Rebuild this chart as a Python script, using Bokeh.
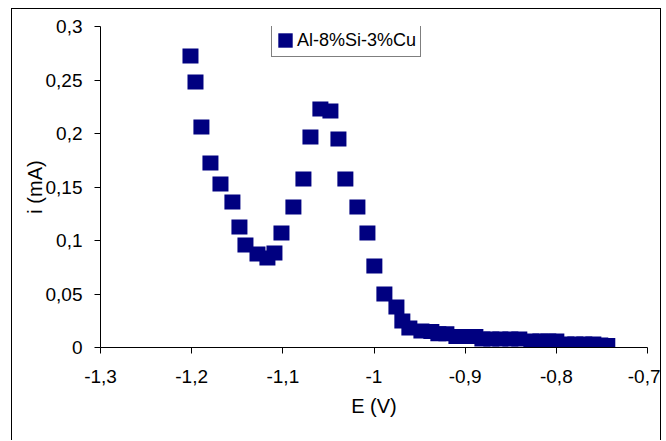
from bokeh.plotting import figure
from bokeh.models import Range1d, FixedTicker, Legend, LegendItem, CustomJSTickFormatter
from bokeh.embed import file_html
from bokeh.resources import INLINE

# ---- data ----
E_V = [-1.2013, -1.1958, -1.1893, -1.1794, -1.1684, -1.1553, -1.1476, -1.1410,
       -1.1278, -1.1169, -1.1092, -1.1015, -1.0884, -1.0774, -1.0697, -1.0588,
       -1.0478, -1.0390, -1.0314, -1.0182, -1.0072, -0.9996, -0.9886, -0.9754,
       -0.9689, -0.9612, -0.9480, -0.9371, -0.9294, -0.9206, -0.9096, -0.8987,
       -0.8888, -0.8811, -0.8713, -0.8614, -0.8504, -0.8406, -0.8274, -0.8175,
       -0.8088, -0.8000, -0.7890, -0.7792, -0.7693, -0.7594, -0.7518, -0.7441]
i_mA = [0.2724, 0.2481, 0.2061, 0.1724, 0.1528, 0.1360, 0.1126, 0.0958,
        0.0874, 0.0836, 0.0883, 0.1070, 0.1313, 0.1575, 0.1967, 0.2229,
        0.2210, 0.1949, 0.1575, 0.1313, 0.1070, 0.0762, 0.0500, 0.0379,
        0.0248, 0.0182, 0.0154, 0.0150, 0.0128, 0.0128, 0.0103, 0.0103,
        0.0103, 0.0079, 0.0079, 0.0079, 0.0079, 0.0079, 0.0061, 0.0061,
        0.0061, 0.0061, 0.0033, 0.0033, 0.0033, 0.0033, 0.0023, 0.0019]
series_name = "Al-8%Si-3%Cu"

x_ticks = [-1.3, -1.2, -1.1, -1.0, -0.9, -0.8, -0.7]
x_tick_labels = ["-1,3", "-1,2", "-1,1", "-1", "-0,9", "-0,8", "-0,7"]
y_ticks = [0.0, 0.05, 0.1, 0.15, 0.2, 0.25, 0.3]
y_tick_labels = ["0", "0,05", "0,1", "0,15", "0,2", "0,25", "0,3"]

FONT = "Liberation Sans"
NAVY = "#000080"

p = figure(width=650, height=432, output_backend="svg", toolbar_location=None,
           x_range=Range1d(-1.3, -0.7), y_range=Range1d(0, 0.3),
           min_border_left=88, min_border_right=15, min_border_top=17,
           min_border_bottom=94, margin=(8, 0, 0, 11),
           background_fill_color="white", border_fill_color="white")
p.styles = {"border-left": "1px solid black", "border-top": "1px solid black",
            "border-right": "1px solid black"}
p.outline_line_color = None
p.xgrid.visible = False
p.ygrid.visible = False

r = p.rect(x=E_V, y=i_mA, width=16, height=15, width_units="screen",
           height_units="screen", fill_color=NAVY, line_color=None)

fmt_code = """
let best = 0; let d = 1e9;
for (let k = 0; k < tv.length; k++) {
  const dd = Math.abs(tv[k] - tick);
  if (dd < d) { d = dd; best = k; }
}
return tl[best];
"""
p.xaxis.ticker = FixedTicker(ticks=x_ticks)
p.xaxis.formatter = CustomJSTickFormatter(args=dict(tv=x_ticks, tl=x_tick_labels), code=fmt_code)
p.yaxis.ticker = FixedTicker(ticks=y_ticks)
p.yaxis.formatter = CustomJSTickFormatter(args=dict(tv=y_ticks, tl=y_tick_labels), code=fmt_code)

p.xaxis.axis_label = "E (V)"
p.yaxis.axis_label = "i (mA)"
for ax in (p.xaxis, p.yaxis):
    ax.axis_line_color = "black"
    ax.major_tick_line_color = "black"
    ax.minor_tick_line_color = None
    ax.major_tick_in = 0
    ax.major_tick_out = 6
    ax.major_label_text_font = FONT
    ax.major_label_text_font_size = "19px"
    ax.major_label_text_color = "black"
    ax.axis_label_text_font = FONT
    ax.axis_label_text_font_size = "20px"
    ax.axis_label_text_font_style = "normal"
    ax.axis_label_text_color = "black"
p.xaxis.major_label_standoff = 16
p.xaxis.axis_label_standoff = 9
p.yaxis.major_label_standoff = 12
p.yaxis.axis_label_standoff = -3
p.yaxis.major_label_orientation = "horizontal"

legend = Legend(items=[LegendItem(label=series_name, renderers=[r])],
                location=(171, 290), margin=0, padding=4, spacing=0,
                glyph_width=18, glyph_height=18, label_height=24,
                label_standoff=3, label_text_font=FONT,
                label_text_font_size="18px", label_text_color="black",
                border_line_color="black", border_line_width=1,
                background_fill_color="white", background_fill_alpha=1)
p.add_layout(legend)

open("out.html", "w").write(file_html(p, INLINE))
